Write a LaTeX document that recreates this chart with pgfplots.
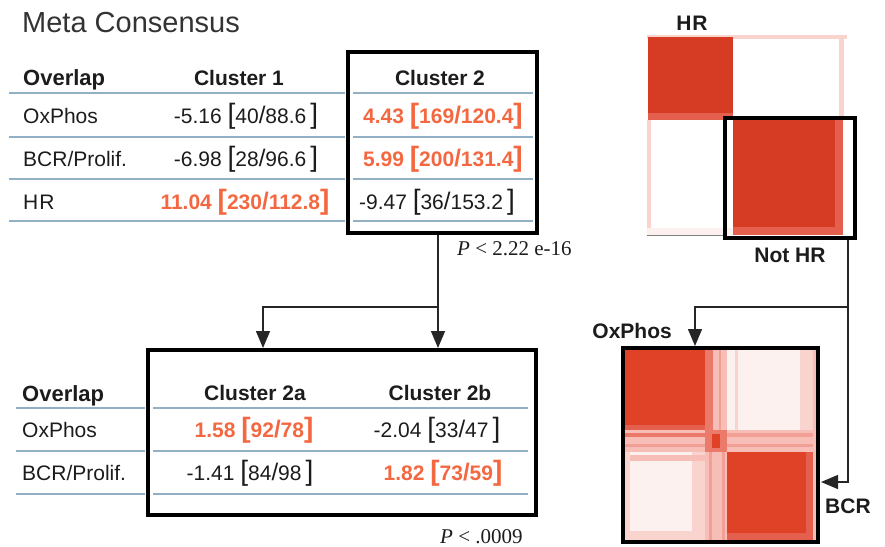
\documentclass[border=0pt]{standalone}
\usepackage{pgfplots}
\pgfplotsset{compat=1.18}
\usetikzlibrary{arrows.meta}
\usepackage{fontspec}
\setmainfont{Liberation Sans}
\newfontfamily\serifP{Liberation Serif}
\definecolor{orng}{RGB}{243,104,64}
\definecolor{txt}{RGB}{28,28,28}
\definecolor{rule}{RGB}{146,175,195}
\definecolor{hred}{RGB}{214,60,36}
\definecolor{hredb}{RGB}{224,66,40}
\definecolor{fringe}{RGB}{228,95,78}
\definecolor{pkA}{RGB}{236,122,106}
\definecolor{pkB}{RGB}{242,160,150}
\definecolor{pkC}{RGB}{246,190,182}
\definecolor{pkD}{RGB}{249,212,207}
\definecolor{pkE}{RGB}{253,241,239}
\newcommand{\bk}[1]{{\fontsize{28}{28}\selectfont #1}}
\newcommand{\slsh}{{\fontsize{24}{24}\selectfont/}}
\newcommand{\vb}[3]{#1 \bk{[}#2\slsh#3\hspace{4pt}\bk{]}}
\newcommand{\vo}[3]{\textcolor{orng}{\bfseries #1 \bk{[}#2\slsh#3\bk{]}}}
\newcommand{\rect}[5]{\addplot[fill=#5, draw=none] coordinates {(#1,#2) (#3,#2) (#3,#4) (#1,#4)} -- cycle;}
\newcommand{\fs}[1]{\fontsize{#1}{#1}\selectfont}
\begin{document}
\begin{tikzpicture}
\begin{axis}[
  at={(0,0)}, anchor=south west,
  width=885pt, height=546pt, scale only axis,
  xmin=0, xmax=885, ymin=0, ymax=546, y dir=reverse,
  hide axis, clip=false, no markers,
]
% ---------- heatmap 1 ----------
\rect{647}{35}{847}{39}{pkD}
\rect{648}{37}{733}{120}{hred}
\rect{648}{113}{733}{120}{fringe}
\rect{839}{38}{844}{120}{pkD}
\rect{647}{120}{651}{235}{pkD}
\rect{647}{228}{733}{235}{pkE}
\rect{733}{120}{843}{235}{hred}
\rect{835}{120}{843}{235}{fringe}
\rect{733}{227}{843}{235}{fringe}
\addplot[draw=gray, line width=0.8pt] coordinates {(647,235) (725,235)};
\addplot[draw=black, line width=3.5pt] coordinates {(725,118) (855,118) (855,238) (725,238)} -- cycle;
% ---------- heatmap 2 ----------
\rect{625}{350}{705}{430}{hredb}
\rect{625}{425}{705}{432}{fringe}
\rect{705}{350}{713}{430}{pkA}
\rect{713}{350}{727}{430}{pkC}
\rect{719}{350}{721}{430}{pkB}
\rect{727}{350}{813}{430}{pkE}
\rect{735}{350}{738}{430}{pkD}
\rect{800}{350}{813}{430}{pkD}
\rect{625}{430}{813}{452}{pkC}
\rect{625}{433}{705}{437}{pkA}
\rect{727}{433}{813}{437}{pkB}
\rect{625}{444}{813}{447}{pkB}
\rect{705}{430}{727}{452}{pkA}
\rect{712}{434}{720}{448}{hredb}
\rect{705}{452}{727}{540}{pkC}
\rect{709}{452}{712}{540}{pkB}
\rect{722}{452}{725}{540}{pkB}
\rect{625}{452}{705}{540}{pkE}
\rect{692}{452}{705}{540}{pkD}
\rect{625}{455}{705}{461}{pkC}
\rect{625}{531}{705}{540}{pkD}
\rect{625}{452}{630}{540}{pkD}
\rect{727}{452}{813}{540}{hredb}
\rect{806}{452}{813}{540}{fringe}
\rect{727}{533}{813}{540}{fringe}
\rect{813}{350}{816}{540}{pkC}
\addplot[draw=black, line width=4pt] coordinates {(623,348) (818,348) (818,542) (623,542)} -- cycle;
% ---------- connectors ----------
\addplot[draw=black!85, line width=1.4pt, -{Triangle[width=14pt,length=17pt]}] coordinates {(438,235) (438,348)};
\addplot[draw=black!85, line width=1.4pt, -{Triangle[width=14pt,length=17pt]}] coordinates {(438,307) (263,307) (263,348)};
\addplot[draw=black!85, line width=1.4pt, -{Triangle[width=14pt,length=17pt]}] coordinates {(848,240) (848,482) (821,482)};
\addplot[draw=black!85, line width=1.4pt, -{Triangle[width=14pt,length=17pt]}] coordinates {(848,307) (695,307) (695,346)};
% ---------- table 1 rules and box ----------
\addplot[draw=rule, line width=2.2pt] coordinates {(9,93) (345,93)};
\addplot[draw=rule, line width=2.2pt] coordinates {(9,137) (345,137)};
\addplot[draw=rule, line width=2.2pt] coordinates {(9,179) (345,179)};
\addplot[draw=rule, line width=2.2pt] coordinates {(9,221) (345,221)};
\addplot[draw=rule, line width=2.2pt] coordinates {(353,93) (533,93)};
\addplot[draw=rule, line width=2.2pt] coordinates {(353,137) (533,137)};
\addplot[draw=rule, line width=2.2pt] coordinates {(353,179) (533,179)};
\addplot[draw=rule, line width=2.2pt] coordinates {(353,221) (533,221)};
\addplot[draw=black, line width=4.5pt] coordinates {(348,52) (537,52) (537,233) (348,233)} -- cycle;
% ---------- table 2 rules and box ----------
\addplot[draw=rule, line width=2.2pt] coordinates {(16,408) (145,408)};
\addplot[draw=rule, line width=2.2pt] coordinates {(16,451) (145,451)};
\addplot[draw=rule, line width=2.2pt] coordinates {(16,494) (145,494)};
\addplot[draw=rule, line width=2.2pt] coordinates {(153,408) (528,408)};
\addplot[draw=rule, line width=2.2pt] coordinates {(153,451) (528,451)};
\addplot[draw=rule, line width=2.2pt] coordinates {(153,494) (528,494)};
\addplot[draw=black, line width=4.5pt] coordinates {(148,350) (536,350) (536,515) (148,515)} -- cycle;
% ---------- texts ----------
\node[anchor=base west, inner sep=0, font=\fs{29}, text=black!80] at (axis cs:22,32) {Meta Consensus};
\begin{scope}[every node/.style={inner sep=0, text=txt, font=\fs{21}}]
\node[anchor=base west, font=\fs{22}\bfseries] at (axis cs:23,85) {Overlap};
\node[anchor=base, font=\fs{21}\bfseries] at (axis cs:239,85) {Cluster 1};
\node[anchor=base, font=\fs{21}\bfseries] at (axis cs:440,85) {Cluster 2};
\node[anchor=base west] at (axis cs:23,123) {OxPhos};
\node[anchor=base west] at (axis cs:23,166) {BCR/Prolif.};
\node[anchor=base west] at (axis cs:23,209) {H\hspace{1pt}R};
\node[anchor=base] at (axis cs:246,123) {\vb{-5.16}{40}{88.6}};
\node[anchor=base] at (axis cs:246,166) {\vb{-6.98}{28}{96.6}};
\node[anchor=base] at (axis cs:245,209) {\vo{11.04}{230}{112.8}};
\node[anchor=base] at (axis cs:443,123) {\vo{4.43}{169}{120.4}};
\node[anchor=base] at (axis cs:443,166) {\vo{5.99}{200}{131.4}};
\node[anchor=base] at (axis cs:437,209) {\vb{-9.47}{36}{153.2}};
\node[anchor=base west, font=\fs{22}\bfseries] at (axis cs:22,401) {Overlap};
\node[anchor=base, font=\fs{21}\bfseries] at (axis cs:255,400) {Cluster 2a};
\node[anchor=base, font=\fs{21}\bfseries] at (axis cs:440,400) {Cluster 2b};
\node[anchor=base west] at (axis cs:22,437) {OxPhos};
\node[anchor=base west] at (axis cs:22,480) {BCR/Prolif.};
\node[anchor=base] at (axis cs:254,437) {\vo{1.58}{92}{78}};
\node[anchor=base] at (axis cs:250,480) {\vb{-1.41}{84}{98}};
\node[anchor=base] at (axis cs:437,437) {\vb{-2.04}{33}{47}};
\node[anchor=base] at (axis cs:443,480) {\vo{1.82}{73}{59}};
\node[anchor=base west, font=\serifP\fs{21}] at (axis cs:457,255) {\textit{P} < 2.22 e-16};
\node[anchor=base west, font=\serifP\fs{21}] at (axis cs:440,543) {\textit{P} < .0009};
\node[anchor=base, font=\fs{21}\bfseries] at (axis cs:692,30) {H\hspace{1pt}R};
\node[anchor=base, font=\fs{21}\bfseries] at (axis cs:790,262) {Not HR};
\node[anchor=base east, font=\fs{21}\bfseries] at (axis cs:672,338) {OxPhos};
\node[anchor=base west, font=\fs{21}\bfseries] at (axis cs:825,513) {BCR};
\end{scope}
\end{axis}
\pgfresetboundingbox
\useasboundingbox (0,0) rectangle (885pt,546pt);
\end{tikzpicture}
\end{document}
